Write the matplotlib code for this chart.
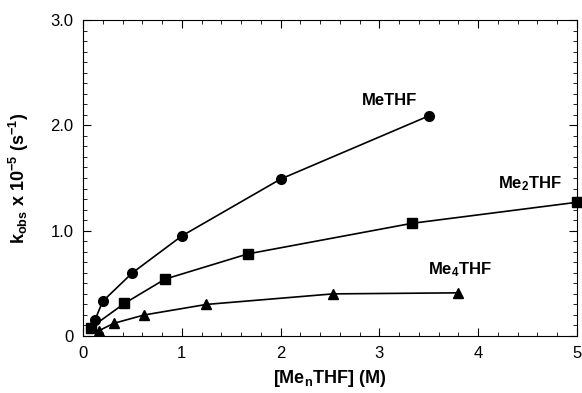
import matplotlib
matplotlib.use("Agg")
import matplotlib.pyplot as plt
from matplotlib.ticker import MultipleLocator

plt.rcParams['font.family'] = ['Liberation Sans', 'DejaVu Sans']
plt.rcParams['mathtext.fontset'] = 'custom'
plt.rcParams['mathtext.rm'] = 'Liberation Sans:bold'
plt.rcParams['mathtext.bf'] = 'Liberation Sans:bold'
plt.rcParams['mathtext.default'] = 'bf'

# Data
me_x = [0.12, 0.2, 0.5, 1.0, 2.0, 3.5]
me_y = [0.15, 0.33, 0.60, 0.95, 1.49, 2.09]

me2_x = [0.08, 0.42, 0.83, 1.67, 3.33, 5.0]
me2_y = [0.08, 0.31, 0.54, 0.78, 1.07, 1.27]

me4_x = [0.16, 0.31, 0.62, 1.25, 2.53, 3.8]
me4_y = [0.05, 0.12, 0.20, 0.30, 0.40, 0.41]

fig = plt.figure(figsize=(5.82, 3.93), dpi=100)
ax = fig.add_axes([0.1426, 0.145, 0.8488, 0.804])

ax.plot(me_x, me_y, 'k-', marker='o', markersize=7, linewidth=1.2)
ax.plot(me2_x, me2_y, 'k-', marker='s', markersize=7.5, linewidth=1.2, clip_on=False)
ax.plot(me4_x, me4_y, 'k-', marker='^', markersize=7, linewidth=1.2)

ax.text(3.1, 2.24, "MeTHF", ha='center', va='center', fontsize=12, fontweight='bold')
ax.text(4.52, 1.45, "Me$_2$THF", ha='center', va='center', fontsize=12, fontweight='bold')
ax.text(3.82, 0.63, "Me$_4$THF", ha='center', va='center', fontsize=12, fontweight='bold')

ax.set_xlim(0, 5)
ax.set_ylim(0, 3.0)
ax.xaxis.set_major_locator(MultipleLocator(1))
ax.xaxis.set_minor_locator(MultipleLocator(0.2))
ax.yaxis.set_minor_locator(MultipleLocator(0.1))
ax.set_yticks([0, 1, 2, 3])
ax.set_yticklabels(["0", "1.0", "2.0", "3.0"])
ax.tick_params(which='both', direction='in', top=True, right=True, labelsize=12, pad=7)
ax.tick_params(which='major', length=6)
ax.tick_params(which='minor', length=3)

ax.set_xlabel("[Me$_n$THF] (M)", fontsize=13, fontweight='bold')
ax.set_ylabel("k$_{obs}$ x 10$^{-5}$ (s$^{-1}$)", fontsize=13, fontweight='bold')
ax.xaxis.set_label_coords(0.5, -0.10)
ax.yaxis.set_label_coords(-0.105, 0.5)

fig.savefig("out.png", dpi=100)
